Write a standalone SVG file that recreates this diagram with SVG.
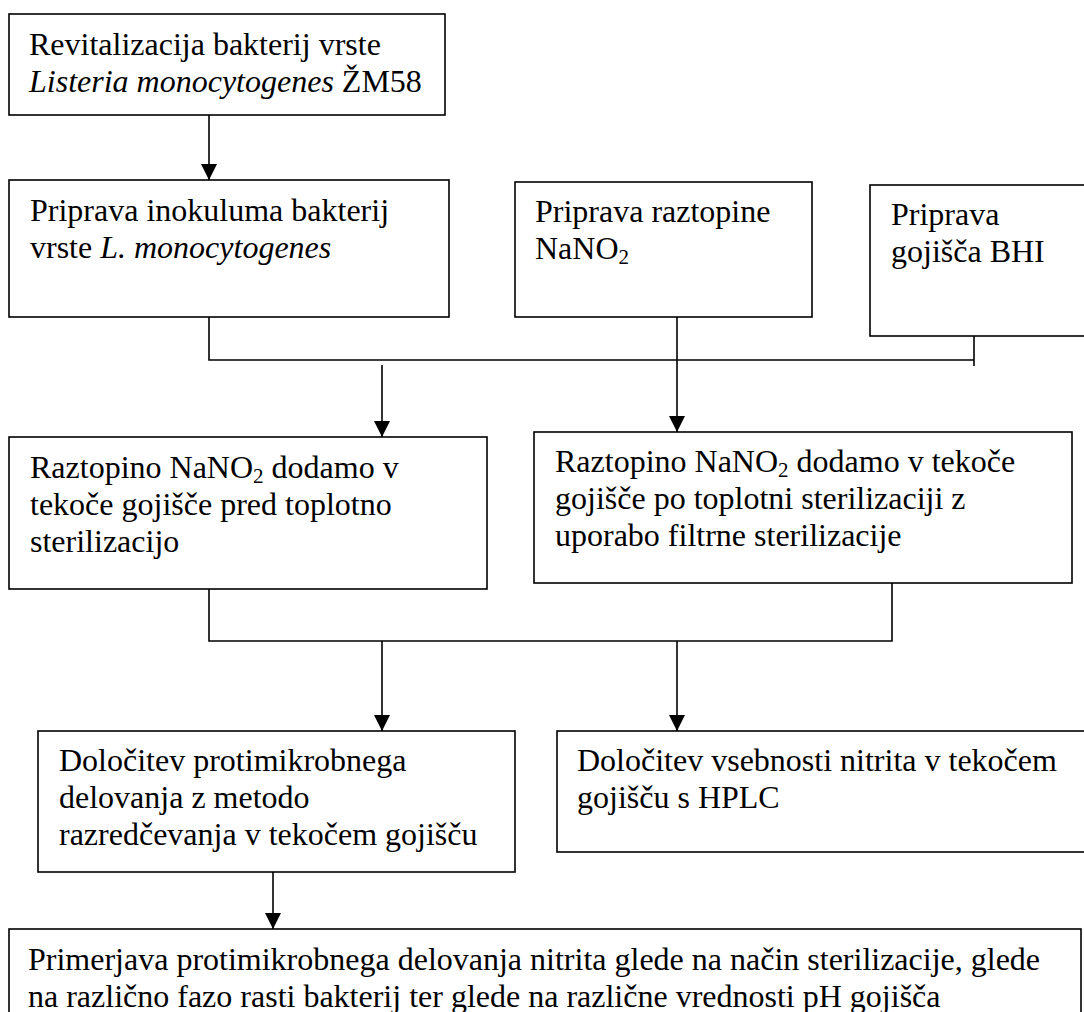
<svg xmlns="http://www.w3.org/2000/svg" width="1084" height="1012" viewBox="0 0 1084 1012">
<defs>
<marker id="ah" markerUnits="userSpaceOnUse" markerWidth="16" markerHeight="16" refX="16" refY="8" orient="auto">
<path d="M0,0 L16,8 L0,16 z" fill="#000"/>
</marker>
<style>
.box{fill:#fff;stroke:#000;stroke-width:1.6}
.t{font-family:"Liberation Serif","Times New Roman",serif;font-size:32px;fill:#000}
.c{fill:none;stroke:#000;stroke-width:1.6}
.i{font-style:italic}
</style>
</defs>
<rect width="1084" height="1012" fill="#fff"/>
<g id="connectors">
<line class="c" x1="209" y1="115" x2="209" y2="180" marker-end="url(#ah)"/>
<polyline class="c" points="209,317 209,360 974,360"/>
<line class="c" x1="974" y1="336" x2="974" y2="366"/>
<line class="c" x1="677" y1="317" x2="677" y2="432" marker-end="url(#ah)"/>
<line class="c" x1="382" y1="365" x2="382" y2="437" marker-end="url(#ah)"/>
<polyline class="c" points="209,589 209,641 892,641 892,583"/>
<line class="c" x1="382" y1="641" x2="382" y2="731" marker-end="url(#ah)"/>
<line class="c" x1="677" y1="641" x2="677" y2="731" marker-end="url(#ah)"/>
<line class="c" x1="273" y1="872" x2="273" y2="929" marker-end="url(#ah)"/>
</g>
<g id="n1">
<rect class="box" x="9" y="14" width="436" height="101"/>
<text class="t" x="29" y="55">Revitalizacija bakterij vrste</text>
<text class="t" x="29" y="92"><tspan class="i">Listeria monocytogenes</tspan> ŽM58</text>
</g>
<g id="n2">
<rect class="box" x="9" y="180" width="440" height="137"/>
<text class="t" x="30" y="221">Priprava inokuluma bakterij</text>
<text class="t" x="30" y="258">vrste <tspan class="i">L. monocytogenes</tspan></text>
</g>
<g id="n3">
<rect class="box" x="515" y="182" width="297" height="135"/>
<text class="t" x="535" y="222">Priprava raztopine</text>
<text class="t" x="535" y="259">NaNO<tspan font-size="21" dy="5">2</tspan></text>
</g>
<g id="n4">
<rect class="box" x="870" y="185" width="240" height="151"/>
<text class="t" x="891" y="225">Priprava</text>
<text class="t" x="891" y="262">gojišča BHI</text>
</g>
<g id="n5">
<rect class="box" x="9" y="437" width="478" height="152"/>
<text class="t" x="30" y="478">Raztopino NaNO<tspan font-size="21" dy="5">2</tspan><tspan dy="-5"> dodamo v</tspan></text>
<text class="t" x="30" y="515">tekoče gojišče pred toplotno</text>
<text class="t" x="30" y="552">sterilizacijo</text>
</g>
<g id="n6">
<rect class="box" x="534" y="432" width="538" height="151"/>
<text class="t" x="555" y="472">Raztopino NaNO<tspan font-size="21" dy="5">2</tspan><tspan dy="-5"> dodamo v tekoče</tspan></text>
<text class="t" x="555" y="509">gojišče po toplotni sterilizaciji z</text>
<text class="t" x="555" y="546">uporabo filtrne sterilizacije</text>
</g>
<g id="n7">
<rect class="box" x="38" y="731" width="477" height="141"/>
<text class="t" x="59" y="771">Določitev protimikrobnega</text>
<text class="t" x="59" y="808">delovanja z metodo</text>
<text class="t" x="59" y="845">razredčevanja v tekočem gojišču</text>
</g>
<g id="n8">
<rect class="box" x="557" y="731" width="560" height="121"/>
<text class="t" x="577" y="771">Določitev vsebnosti nitrita v tekočem</text>
<text class="t" x="577" y="808">gojišču s HPLC</text>
</g>
<g id="n9">
<rect class="box" x="9" y="929" width="1072" height="100"/>
<text class="t" x="28" y="970">Primerjava protimikrobnega delovanja nitrita glede na način sterilizacije, glede</text>
<text class="t" x="28" y="1007">na različno fazo rasti bakterij ter glede na različne vrednosti pH gojišča</text>
</g>
</svg>
